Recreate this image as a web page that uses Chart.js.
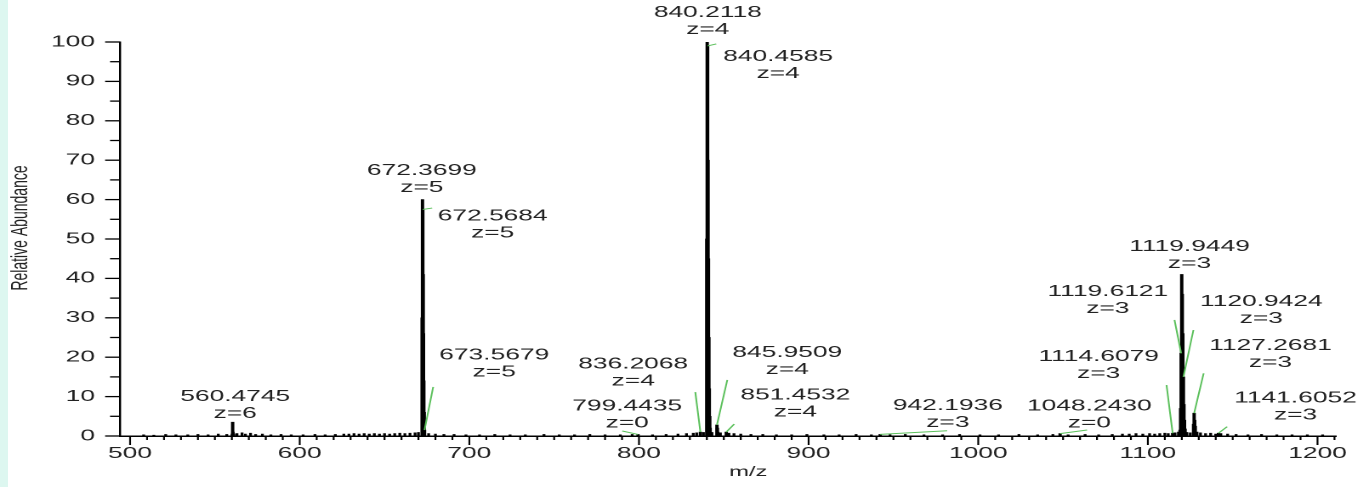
<!DOCTYPE html>
<html>
<head>
<meta charset="utf-8">
<script src="https://cdn.jsdelivr.net/npm/chart.js@4.4.0/dist/chart.umd.min.js"></script>
<style>
html, body { margin: 0; padding: 0; background: #fff; overflow: hidden; }
/* the original picture is stretched sideways, so the chart is drawn narrow and scaled in x */
#wrap { position: absolute; left: 0; top: 0; width: 805px; height: 487px; transform-origin: 0 0; transform: scaleX(1.7006); }
#strip { position: absolute; left: 0; top: 0; width: 8px; height: 487px; background: #ddf7f0; }
</style>
</head>
<body>
<div id="wrap"><canvas id="spec" width="805" height="487"></canvas></div>
<div id="strip"></div>
<script>
// isotope clusters and other real peaks (m/z, relative abundance)
const peakMz = [
  560.3078, 560.4745, 560.6411, 560.8078, 560.9745,
  672.1697, 672.3699, 672.5684, 672.7686, 672.9688, 673.1690, 673.3693, 673.5679,
  799.4435, 836.2068,
  839.9600, 840.2118, 840.4585, 840.7093, 840.9600, 841.2108, 841.4615, 841.7123, 841.9630,
  845.9509, 846.2010, 846.4520, 851.4532, 942.1936, 1048.2430, 1114.6079,
  1118.9452, 1119.2784, 1119.6121, 1119.9449, 1120.2784, 1120.6117, 1120.9424, 1121.2758, 1121.6091, 1121.9425,
  1126.9350, 1127.2681, 1127.6010, 1127.9340, 1141.6052
];
const peakAbund = [
  0.5, 3.5, 1.0, 0.7, 0.4,
  30, 60, 57.5, 41, 26, 14, 6, 1.5,
  0.4, 1.0,
  50, 100, 99, 70, 45, 25, 12, 5, 2,
  2.8, 2.0, 1.0, 1.0, 0.4, 0.6, 0.7,
  1.5, 7, 21, 41, 36, 26, 15, 8, 4, 1.8,
  3.0, 5.8, 4.0, 2.5, 0.7
];

// low noise sticks along the baseline
const noiseMz = [
  508, 514, 521, 527, 534, 540, 546, 552, 557, 563, 566, 568, 571, 574, 578, 583, 589, 595,
  602, 609, 615, 621, 626, 629, 632, 635, 638, 641, 644, 647, 650, 653, 656, 659, 662, 665, 668, 670,
  676, 680, 685, 691, 698, 706, 715, 724, 733, 744, 753, 762, 771, 780, 789, 796,
  808, 816, 823, 828, 832, 834, 838, 843, 848, 853, 856, 860, 866, 873, 881, 890, 899,
  909, 918, 928, 937, 948, 957, 968, 979, 989, 1001, 1012, 1024, 1035, 1044, 1053, 1063, 1071, 1079,
  1085, 1089, 1093, 1097, 1101, 1104, 1107, 1110, 1112, 1116, 1118, 1123, 1125, 1129, 1131, 1134,
  1137, 1140, 1143, 1147, 1152, 1159, 1167, 1176, 1185, 1194, 1203
];
const noiseAbund = [
  0.3, 0.2, 0.4, 0.3, 0.3, 0.4, 0.3, 0.5, 0.4, 0.6, 0.8, 0.5, 0.7, 0.4, 0.5, 0.3, 0.4, 0.3,
  0.3, 0.4, 0.3, 0.4, 0.5, 0.5, 0.6, 0.5, 0.6, 0.5, 0.6, 0.5, 0.6, 0.5, 0.6, 0.7, 0.6, 0.7, 0.8, 0.9,
  0.6, 0.5, 0.4, 0.4, 0.3, 0.3, 0.4, 0.3, 0.3, 0.4, 0.3, 0.3, 0.4, 0.3, 0.3, 0.4,
  0.3, 0.4, 0.5, 0.6, 0.7, 0.8, 0.9, 0.9, 0.8, 0.7, 0.6, 0.5, 0.4, 0.4, 0.3, 0.3, 0.4,
  0.3, 0.3, 0.4, 0.3, 0.3, 0.4, 0.3, 0.3, 0.4, 0.3, 0.3, 0.4, 0.3, 0.4, 0.3, 0.4, 0.3, 0.4,
  0.5, 0.5, 0.6, 0.5, 0.6, 0.5, 0.6, 0.7, 0.6, 0.8, 1.0, 0.9, 0.8, 1.0, 0.8, 0.6,
  0.7, 0.5, 0.6, 0.5, 0.4, 0.3, 0.4, 0.3, 0.3, 0.3, 0.3
];

// annotated peaks and their charge
const labelMz = [560.4745, 672.3699, 672.5684, 673.5679, 799.4435, 836.2068, 840.2118, 840.4585, 845.9509,
  851.4532, 942.1936, 1048.2430, 1114.6079, 1119.6121, 1119.9449, 1120.9424, 1127.2681, 1141.6052];
const labelZ = [6, 5, 5, 5, 0, 4, 4, 4, 4, 4, 3, 0, 3, 3, 3, 3, 3, 3];
const labelAbund = labelMz.map(m => peakAbund[peakMz.indexOf(m)]);

const xTicks = [500, 600, 700, 800, 900, 1000, 1100, 1200];
const yTicks = [0, 10, 20, 30, 40, 50, 60, 70, 80, 90, 100];

// where each label sits, in px from the peak top: text dx, dy, leader end dx, dy
const labelPlace = [
  [1.5, -25.5, null, null], [-0.35, -28.9, null, null], [41.1, 6.6, 5.5, -1.4], [41, -75.1, 5.1, -43.1],
  [-6.35, -28.4, -9.3, -3.4], [-39.5, -68, -3, -40], [0.35, -29.2, null, null], [41.5, 10.8, 5.1, -2],
  [41.4, -72, 6.1, -45], [40.6, -37, 4.7, -8], [39.8, -28.6, 39.4, -3.7], [17.2, -27.6, 15.9, -3.6],
  [-43.5, -76.5, -3.6, -48.2], [-43.1, -61.6, -3.9, -33.3], [4.6, -27.5, null, null], [45.8, -75.2, 5.9, -46.9],
  [44.9, -67.4, 5.6, -39.8], [45.3, -34.9, 5.1, -6.5]
];

const FONT = '"Liberation Sans", Arial, sans-serif';

const decor = {
  id: 'decor',
  afterDraw(chart) {
    const ctx = chart.ctx;
    const x = chart.scales.x, y = chart.scales.y;
    const area = chart.chartArea;
    ctx.save();
    ctx.strokeStyle = '#000';

    // x ticks, long every 100, short every 10
    ctx.lineWidth = 1.1;
    for (let v = 500; v <= 1210; v += 10) {
      const px = x.getPixelForValue(v);
      ctx.beginPath();
      ctx.moveTo(px, area.bottom);
      ctx.lineTo(px, area.bottom + (v % 100 === 0 ? 9 : 4));
      ctx.stroke();
    }
    // y ticks, long every 10, short every 5
    ctx.lineWidth = 1.3;
    for (let v = 0; v <= 100; v += 5) {
      const py = y.getPixelForValue(v);
      ctx.beginPath();
      ctx.moveTo(area.left, py);
      ctx.lineTo(area.left - (v % 10 === 0 ? 8.8 : 5.9), py);
      ctx.stroke();
    }

    // peak labels with green leader lines
    ctx.font = '15.5px ' + FONT;
    ctx.fillStyle = '#222';
    ctx.textAlign = 'center';
    ctx.textBaseline = 'middle';
    ctx.strokeStyle = '#5cc05c';
    ctx.lineWidth = 1;
    labelMz.forEach((m, i) => {
      const px = x.getPixelForValue(m);
      const py = y.getPixelForValue(labelAbund[i]);
      const p = labelPlace[i];
      if (p[2] !== null) {
        ctx.beginPath();
        ctx.moveTo(px, py);
        ctx.lineTo(px + p[2], py + p[3]);
        ctx.stroke();
      }
      ctx.fillText(m.toFixed(4), px + p[0], py + p[1]);
      ctx.fillText('z=' + labelZ[i], px + p[0], py + p[1] + 17);
    });

    // axis titles
    ctx.fillStyle = '#222';
    ctx.font = '14px ' + FONT;
    ctx.fillText('m/z', 440, 472);
    ctx.translate(12.1, 228);
    ctx.rotate(-Math.PI / 2);
    ctx.fillText('Relative Abundance', 0, 0);
    ctx.restore();
  }
};

new Chart(document.getElementById('spec'), {
  type: 'bar',
  data: {
    datasets: [
      {
        data: peakMz.map((m, i) => ({ x: m, y: peakAbund[i] })),
        backgroundColor: '#000',
        barThickness: 1.3,
        grouped: false
      },
      {
        data: noiseMz.map((m, i) => ({ x: m, y: noiseAbund[i] })),
        backgroundColor: '#000',
        barThickness: 1,
        grouped: false
      }
    ]
  },
  options: {
    responsive: false,
    devicePixelRatio: 2,
    animation: false,
    layout: { padding: { top: 42, right: 19.7, left: 0, bottom: 0 } },
    plugins: { legend: { display: false }, tooltip: { enabled: false } },
    scales: {
      x: {
        type: 'linear',
        offset: false,
        min: 494.1,
        max: 1210.6,
        afterBuildTicks: s => { s.ticks = xTicks.map(v => ({ value: v })); },
        afterFit: s => { s.height = 51; },
        grid: { display: false, drawTicks: false, offset: false },
        border: { display: true, color: '#000', width: 1.5 },
        ticks: { autoSkip: false, maxRotation: 0, padding: 8.5, color: '#222', font: { family: FONT, size: 15.5 },
          callback: v => String(v) }
      },
      y: {
        min: 0,
        max: 100,
        afterBuildTicks: s => { s.ticks = yTicks.map(v => ({ value: v })); },
        afterFit: s => { s.width = 70.6; },
        grid: { display: false, drawTicks: false },
        border: { display: true, color: '#000', width: 1.2 },
        ticks: { padding: 14.7, color: '#222', font: { family: FONT, size: 15.5 } }
      }
    }
  },
  plugins: [decor]
});
</script>
</body>
</html>
